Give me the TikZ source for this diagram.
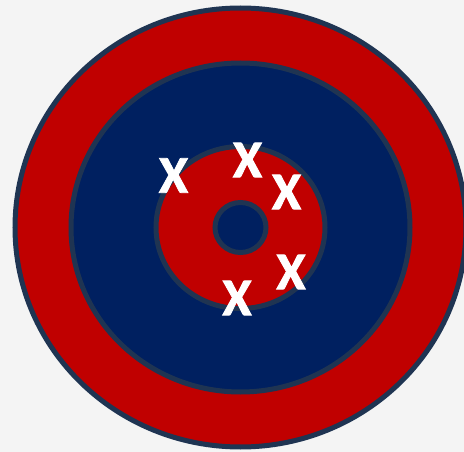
\documentclass[tikz,border=0pt]{standalone}
\usepackage{fontspec}
\setmainfont{Carlito}
\newfontfamily\hitfont[BoldFeatures={FakeBold=1.6}]{Carlito}
\usepackage{xcolor}
\usepackage{tikz}

\definecolor{ringred}{HTML}{C00000}
\definecolor{ringblue}{HTML}{002060}
\definecolor{ringedge}{HTML}{1F3452}
\definecolor{paper}{HTML}{F4F4F4}

\begin{document}
\begin{tikzpicture}[
    x=1pt,
    y=-1pt,
    ring/.style={
        draw=ringedge,
        line width=5pt
    },
    hit/.style={
        text=white,
        font=\hitfont\fontsize{53}{53}\selectfont\bfseries,
        inner sep=0pt,
        anchor=center
    }
]

% Page: light grey sheet, the target is cut off on the right
\fill[paper] (0,0) rectangle (464,452);
\useasboundingbox (0,0) rectangle (464,452);
\clip (0,0) rectangle (464,452);

% Rings, outside in
\draw[ring, fill=ringred]  (240.5,227.5) ellipse [x radius=225.5, y radius=219.5];
\draw[ring, fill=ringblue] (240.5,227.5) ellipse [x radius=169.5, y radius=164.5];
\draw[ring, fill=ringred]  (240.5,227.5) ellipse [x radius=84.5, y radius=81];
\draw[ring, fill=ringblue] (240.5,227.5) ellipse [x radius=25.5, y radius=25];

% Shots
\node[hit] (x1) at (173.5,175.5) {X};
\node[hit] (x2) at (247.5,160)   {X};
\node[hit] (x3) at (286.5,192)   {X};
\node[hit] (x4) at (291,272)     {X};
\node[hit] (x5) at (237,298)     {X};

\end{tikzpicture}
\end{document}
